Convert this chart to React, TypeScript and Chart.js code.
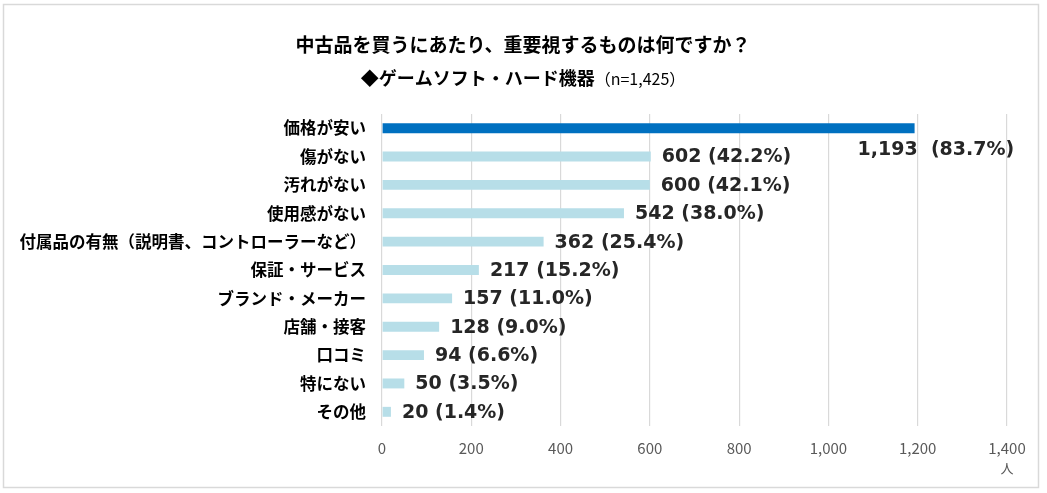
import { useEffect, useRef } from "react";
import { Chart, registerables } from "chart.js";

Chart.register(...registerables);

const categories = [
  "価格が安い",
  "傷がない",
  "汚れがない",
  "使用感がない",
  "付属品の有無（説明書、コントローラーなど）",
  "保証・サービス",
  "ブランド・メーカー",
  "店舗・接客",
  "口コミ",
  "特にない",
  "その他",
];
const counts = [1193, 602, 600, 542, 362, 217, 157, 128, 94, 50, 20];
const percents = [83.7, 42.2, 42.1, 38.0, 25.4, 15.2, 11.0, 9.0, 6.6, 3.5, 1.4];

const titleText = "中古品を買うにあたり、重要視するものは何ですか？";
const subtitleMain = "◆ゲームソフト・ハード機器";
const subtitleN = "（n=1,425）";
const unitText = "人";

const JP = '"Noto Sans CJK JP", "Noto Sans", sans-serif';
const DARK = "#0070C0";
const LIGHT = "#B7DEE8";

const fmt = (n: number) => n.toLocaleString("en-US");

const decor = {
  id: "decor",
  beforeDraw(chart: Chart) {
    const { ctx } = chart;
    ctx.save();
    ctx.fillStyle = "#ffffff";
    ctx.fillRect(0, 0, chart.width, chart.height);
    ctx.strokeStyle = "#d9d9d9";
    ctx.lineWidth = 1.5;
    ctx.strokeRect(3.5, 4.5, 1035, 483);
    ctx.restore();
  },
  afterDraw(chart: Chart) {
    const { ctx, chartArea } = chart;
    ctx.save();
    ctx.fillStyle = "#000000";
    ctx.textBaseline = "middle";
    ctx.textAlign = "center";
    ctx.font = `bold 19px ${JP}`;
    ctx.fillText(titleText, 523, 45);

    ctx.font = `bold 18px ${JP}`;
    const w1 = ctx.measureText(subtitleMain).width;
    ctx.font = `16px ${JP}`;
    const w2 = ctx.measureText(subtitleN).width;
    const start = 523 - (w1 + w2) / 2;
    ctx.textAlign = "left";
    ctx.font = `bold 18px ${JP}`;
    ctx.fillText(subtitleMain, start, 78);
    ctx.font = `16px ${JP}`;
    ctx.fillText(subtitleN, start + w1, 79);

    ctx.fillStyle = "#595959";
    ctx.textAlign = "center";
    ctx.font = `13px ${JP}`;
    ctx.fillText(unitText, chartArea.right, 468);
    ctx.restore();
  },
  afterDatasetsDraw(chart: Chart) {
    const { ctx } = chart;
    const meta = chart.getDatasetMeta(0);
    ctx.save();
    ctx.fillStyle = "#262626";
    ctx.font = 'bold 19px "DejaVu Sans", sans-serif';
    ctx.textBaseline = "middle";
    ctx.textAlign = "left";
    meta.data.forEach((bar: any, i: number) => {
      if (i === 0) {
        ctx.fillText(`${fmt(counts[i])}  (${percents[i].toFixed(1)}%)`, bar.x - 57, bar.y + 22);
      } else {
        ctx.fillText(`${fmt(counts[i])} (${percents[i].toFixed(1)}%)`, bar.x + 11, bar.y + 1);
      }
    });
    ctx.restore();
  },
};

function BarChart() {
  const canvasRef = useRef<HTMLCanvasElement | null>(null);
  const chartRef = useRef<Chart<"bar"> | null>(null);

  useEffect(() => {
    document.body.style.margin = "0";
    if (!canvasRef.current) return;
    chartRef.current?.destroy();
    chartRef.current = new Chart(canvasRef.current, {
      type: "bar",
      data: {
        labels: categories,
        datasets: [
          {
            data: counts,
            backgroundColor: counts.map((_, i) => (i === 0 ? DARK : LIGHT)),
            barPercentage: 0.35,
            categoryPercentage: 1,
          },
        ],
      },
      options: {
        indexAxis: "y",
        animation: false,
        responsive: false,
        maintainAspectRatio: false,
        layout: { padding: { left: 0, right: 40, top: 114, bottom: 27 } },
        plugins: {
          legend: { display: false },
          tooltip: { enabled: false },
        },
        scales: {
          x: {
            min: 0,
            max: 1400,
            ticks: {
              stepSize: 200,
              padding: 13,
              color: "#595959",
              font: { family: JP, size: 15 },
              callback: (v) => fmt(Number(v)),
            },
            grid: { color: "#d9d9d9", lineWidth: 1.2, drawTicks: false },
            border: { display: false },
            afterFit: (s) => {
              s.height = 40;
            },
          },
          y: {
            ticks: {
              padding: 16,
              color: "#000000",
              font: { family: JP, size: 16.5, weight: "bold" },
              autoSkip: false,
            },
            grid: { display: false, drawTicks: false },
            border: { display: false },
            afterFit: (s) => {
              s.width = 382;
            },
          },
        },
      },
      plugins: [decor],
    });
    return () => {
      chartRef.current?.destroy();
      chartRef.current = null;
    };
  }, []);

  return <canvas ref={canvasRef} width={1047} height={493} style={{ display: "block" }} />;
}

export default function App() {
  return (
    <div style={{ width: 1047, height: 493 }}>
      <BarChart />
    </div>
  );
}
